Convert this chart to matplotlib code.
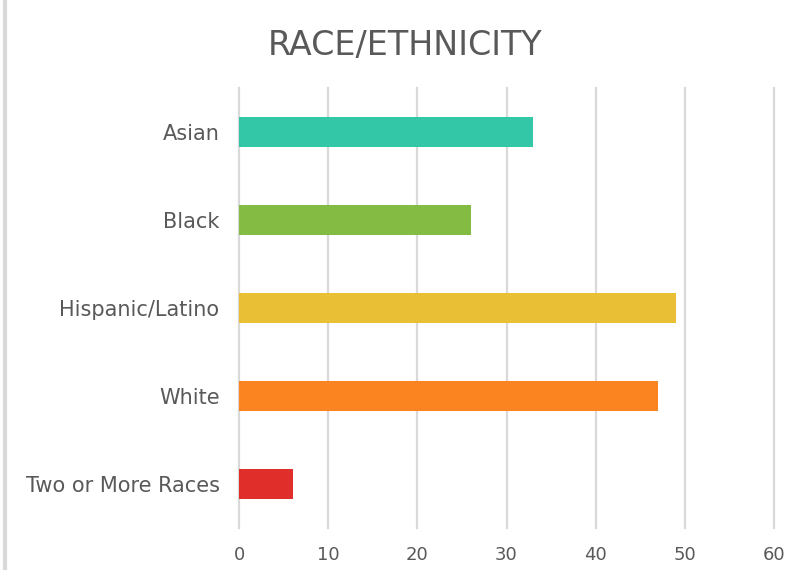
import matplotlib.pyplot as plt
from matplotlib.lines import Line2D

categories = ['Asian', 'Black', 'Hispanic/Latino', 'White', 'Two or More Races']
values = [33, 26, 49, 47, 6]
colors = ['#33c7a8', '#84bb43', '#e8bf35', '#fb8420', '#e02f2a']
xticks = [0, 10, 20, 30, 40, 50, 60]

plt.rcParams['font.family'] = ['DejaVu Sans']

fig = plt.figure(figsize=(7.87, 5.70), dpi=100)
ax = fig.add_axes([0.3037, 0.0737, 0.6798, 0.7719])

pos = list(range(len(categories)))
ax.barh(pos, values, height=0.35, color=colors, zorder=3)
ax.set_ylim(len(categories) - 0.5, -0.5)
ax.set_xlim(0, 60)
ax.set_xticks(xticks)
ax.set_yticks(pos)
ax.set_yticklabels(categories)

ax.grid(axis='x', color='#d9d9d9', linewidth=1.6, zorder=0)
ax.grid(axis='y', visible=False)
for gl in ax.get_xgridlines():
    gl.set_clip_on(False)
for s in ax.spines.values():
    s.set_visible(False)
ax.tick_params(axis='both', length=0, colors='#595959')
ax.tick_params(axis='x', pad=13, labelsize=13)
ax.tick_params(axis='y', pad=14, labelsize=15)

fig.text(0.515, 0.921, 'RACE/ETHNICITY', ha='center', va='center',
         fontsize=24, color='#595959')

# light border on the left edge
fig.add_artist(Line2D([0.006, 0.006], [0, 1], transform=fig.transFigure,
                      color='#d9d9d9', linewidth=3))

fig.savefig('out.png', dpi=100)
